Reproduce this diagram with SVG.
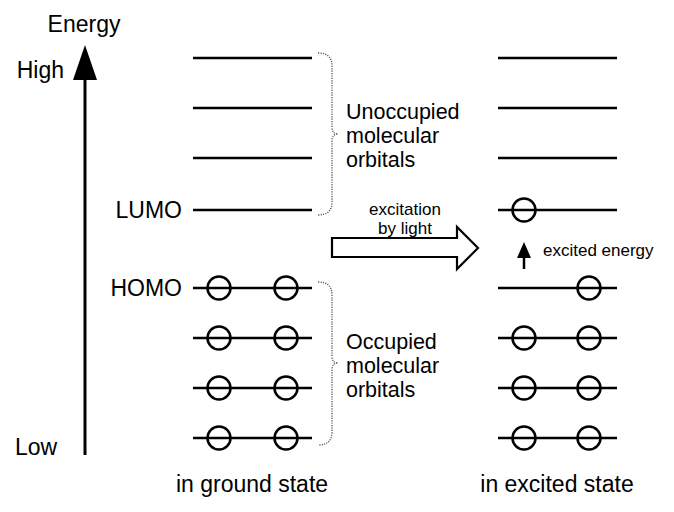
<svg xmlns="http://www.w3.org/2000/svg" width="674" height="512" viewBox="0 0 674 512">
<style>
text{font-family:"Liberation Sans",Arial,sans-serif;fill:#000}
.big{font-size:23px}
.blk{font-size:21.5px}
.sm{font-size:17px}
.lvl{stroke:#000;stroke-width:2.5;fill:none}
.e{stroke:#000;stroke-width:2.5;fill:none}
.brace{stroke:#555;stroke-width:1.3;stroke-dasharray:1.2 1.2;fill:none}
</style>
<rect width="674" height="512" fill="#fff"/>
<g id="axis">
<line x1="85" y1="78" x2="85" y2="455" stroke="#000" stroke-width="3"/>
<polygon points="85,45 97,80 73,80" fill="#000"/>
<text class="big" x="84" y="32" text-anchor="middle">Energy</text>
<text class="big" x="64" y="78" text-anchor="end">High</text>
<text class="big" x="15" y="455">Low</text>
<text class="big" x="182" y="218" text-anchor="end">LUMO</text>
<text class="big" x="182" y="296" text-anchor="end">HOMO</text>
</g>
<g id="ground-state">
<line class="lvl" x1="193" y1="58" x2="312" y2="58"/>
<line class="lvl" x1="193" y1="108" x2="312" y2="108"/>
<line class="lvl" x1="193" y1="158" x2="312" y2="158"/>
<line class="lvl" x1="193" y1="210" x2="312" y2="210"/>
<line class="lvl" x1="193" y1="288" x2="312" y2="288"/>
<line class="lvl" x1="193" y1="338" x2="312" y2="338"/>
<line class="lvl" x1="193" y1="388" x2="312" y2="388"/>
<line class="lvl" x1="193" y1="438" x2="312" y2="438"/>
<circle class="e" cx="219" cy="288" r="11.5"/><circle class="e" cx="286" cy="288" r="11.5"/>
<circle class="e" cx="219" cy="338" r="11.5"/><circle class="e" cx="286" cy="338" r="11.5"/>
<circle class="e" cx="219" cy="388" r="11.5"/><circle class="e" cx="286" cy="388" r="11.5"/>
<circle class="e" cx="219" cy="438" r="11.5"/><circle class="e" cx="286" cy="438" r="11.5"/>
<text class="big" x="252" y="492" text-anchor="middle">in ground state</text>
</g>
<g id="unoccupied-brace">
<path class="brace" d="M318,53 Q332,53 332,66 L332,127 Q332,134 338,134 Q332,134 332,141 L332,202 Q332,215 318,215"/>
<text class="blk" x="346" y="119"><tspan x="346">Unoccupied</tspan><tspan x="346" dy="24.2">molecular</tspan><tspan x="346" dy="24.2">orbitals</tspan></text>
</g>
<g id="occupied-brace">
<path class="brace" d="M318,282 Q332,282 332,295 L332,356 Q332,363 338,363 Q332,363 332,370 L332,432 Q332,445 318,445"/>
<text class="blk" x="346" y="349"><tspan x="346">Occupied</tspan><tspan x="346" dy="24.2">molecular</tspan><tspan x="346" dy="24.2">orbitals</tspan></text>
</g>
<g id="connectors">
<polygon points="332,238 457,238 457,227 478,248 457,269 457,257 332,257" fill="#fff" stroke="#000" stroke-width="2.2" stroke-linejoin="miter"/>
<text class="sm" x="405" y="215" text-anchor="middle"><tspan x="405">excitation</tspan><tspan x="405" dy="19">by light</tspan></text>
<line x1="524" y1="269" x2="524" y2="255" stroke="#000" stroke-width="2.5"/>
<polygon points="524,242 531,258 517,258" fill="#000"/>
<text class="sm" x="543" y="256">excited energy</text>
</g>
<g id="excited-state">
<line class="lvl" x1="498" y1="58" x2="617" y2="58"/>
<line class="lvl" x1="498" y1="108" x2="617" y2="108"/>
<line class="lvl" x1="498" y1="158" x2="617" y2="158"/>
<line class="lvl" x1="498" y1="210" x2="617" y2="210"/>
<line class="lvl" x1="498" y1="288" x2="617" y2="288"/>
<line class="lvl" x1="498" y1="338" x2="617" y2="338"/>
<line class="lvl" x1="498" y1="388" x2="617" y2="388"/>
<line class="lvl" x1="498" y1="438" x2="617" y2="438"/>
<circle class="e" cx="524" cy="210" r="11.5"/>
<circle class="e" cx="589" cy="288" r="11.5"/>
<circle class="e" cx="524" cy="338" r="11.5"/><circle class="e" cx="589" cy="338" r="11.5"/>
<circle class="e" cx="524" cy="388" r="11.5"/><circle class="e" cx="589" cy="388" r="11.5"/>
<circle class="e" cx="524" cy="438" r="11.5"/><circle class="e" cx="589" cy="438" r="11.5"/>
<text class="big" x="557" y="492" text-anchor="middle">in excited state</text>
</g>
</svg>
